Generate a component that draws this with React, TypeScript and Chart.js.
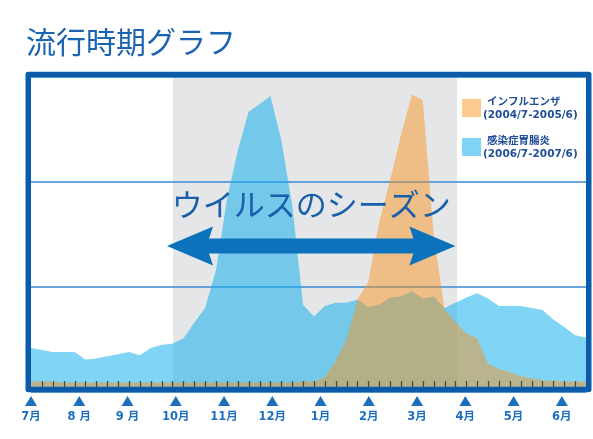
import React, { useEffect, useRef } from 'react';
import { Chart, registerables } from 'chart.js';

Chart.register(...registerables);

// ---- data ----
const TITLE = '流行時期グラフ';
const SEASON_LABEL = 'ウイルスのシーズン';
const MONTHS = ['7月', '8 月', '9 月', '10月', '11月', '12月', '1月', '2月', '3月', '4月', '5月', '6月'];
const WEEKS = [
  0, 1, 2, 3, 4, 5, 6, 7, 8, 9, 10, 11, 12, 13, 14, 15, 16, 17, 18, 19, 20, 21, 22, 23, 24, 25,
  26, 27, 28, 29, 30, 31, 32, 33, 34, 35, 36, 37, 38, 39, 40, 41, 42, 43, 44, 45, 46, 47, 48, 49, 50, 51,
];
const SERIES_LABELS = ['インフルエンザ', '感染症胃腸炎'];
const SERIES_PERIODS = ['(2004/7-2005/6)', '(2006/7-2007/6)'];
// influenza 2004/7-2005/6 (relative level per week)
const INFLUENZA = [
  10, 10, 10, 9, 9, 9, 9, 9, 9, 9, 9, 9, 9, 9, 9, 9, 9, 9, 9, 9, 9, 9, 9, 9, 9, 10,
  10, 14, 30, 50, 88, 105, 162, 202, 245, 283, 278, 150, 78, 67, 56, 51, 27, 22, 19, 15, 13, 11, 11, 10, 10, 10,
];
// infectious gastroenteritis 2006/7-2007/6
const GASTRO = [
  42, 40, 38, 38, 38, 31, 32, 34, 36, 38, 35, 42, 45, 46, 51, 66, 80, 116, 183, 230, 267, 274, 282, 240, 178, 83,
  72, 82, 85, 85, 88, 81, 83, 90, 91, 96, 89, 91, 80, 85, 90, 94, 89, 82, 82, 82, 80, 78, 69, 62, 54, 52,
];
const SEASON = [13.05, 39.15]; // weeks: Oct - Mar
const ARROW = { from: 12.5, to: 39, level: 139, textLevel: 179 };

const COLORS = {
  influenza: 'rgba(248,146,27,0.48)',
  gastro: 'rgba(20,175,236,0.54)',
  band: 'rgb(229,230,232)',
  grid: 'rgba(70,145,210,0.8)',
  frame: '#0b5bab',
  title: '#1a64b1',
  text: '#1a5fab',
  arrow: '#0b72bb',
  month: '#1b6fbd',
  legend: '#214f98',
  tick: 'rgba(50,50,45,0.85)',
};

const decorPlugin = {
  id: 'decor',
  beforeDraw(chart: any) {
    const { ctx, chartArea } = chart;
    const x = chart.scales.x;
    ctx.save();
    ctx.fillStyle = COLORS.band;
    const x0 = x.getPixelForValue(SEASON[0]);
    const x1 = x.getPixelForValue(SEASON[1]);
    ctx.fillRect(x0, chartArea.top, x1 - x0, chartArea.bottom - chartArea.top);
    ctx.restore();
  },
  afterDatasetsDraw(chart: any) {
    const { ctx, chartArea } = chart;
    const x = chart.scales.x;
    const y = chart.scales.y;
    ctx.save();
    // weekly ruler ticks
    ctx.strokeStyle = COLORS.tick;
    ctx.lineWidth = 1.2;
    WEEKS.slice(1, -1).forEach((w) => {
      const px = Math.round(x.getPixelForValue(w)) + 0.5;
      ctx.beginPath();
      ctx.moveTo(px, chartArea.bottom - 11);
      ctx.lineTo(px, chartArea.bottom - 5);
      ctx.stroke();
    });
    // season arrow
    const xl = x.getPixelForValue(ARROW.from);
    const xr = x.getPixelForValue(ARROW.to);
    const yc = y.getPixelForValue(ARROW.level);
    const head = 46, half = 19.5, shaft = 7.5, notch = 4;
    ctx.fillStyle = COLORS.arrow;
    ctx.beginPath();
    ctx.moveTo(xl, yc);
    ctx.lineTo(xl + head, yc - half);
    ctx.lineTo(xl + head - notch, yc - shaft);
    ctx.lineTo(xr - head + notch, yc - shaft);
    ctx.lineTo(xr - head, yc - half);
    ctx.lineTo(xr, yc);
    ctx.lineTo(xr - head, yc + half);
    ctx.lineTo(xr - head + notch, yc + shaft);
    ctx.lineTo(xl + head - notch, yc + shaft);
    ctx.lineTo(xl + head, yc + half);
    ctx.closePath();
    ctx.fill();
    // season label
    ctx.fillStyle = COLORS.text;
    ctx.font = '31px "Noto Sans CJK JP"';
    ctx.textAlign = 'center';
    ctx.textBaseline = 'middle';
    ctx.fillText(SEASON_LABEL, (xl + xr) / 2, y.getPixelForValue(ARROW.textLevel));
    ctx.restore();
  },
  afterDraw(chart: any) {
    const { ctx, chartArea } = chart;
    ctx.save();
    // frame
    ctx.strokeStyle = COLORS.frame;
    ctx.lineWidth = 5.5;
    ctx.lineJoin = 'round';
    ctx.strokeRect(
      chartArea.left - 2.75,
      chartArea.top - 2.5,
      chartArea.right - chartArea.left + 5.5,
      chartArea.bottom - chartArea.top
    );
    // title
    ctx.fillStyle = COLORS.title;
    ctx.font = '30px "Noto Sans CJK JP"';
    ctx.textAlign = 'left';
    ctx.textBaseline = 'middle';
    ctx.fillText(TITLE, chartArea.left - 5, 42);
    // legend
    chart.data.datasets.forEach((ds: any, i: number) => {
      const bx = chartArea.right - 124;
      const by = chartArea.top + 22 + i * 39;
      ctx.fillStyle = ds.backgroundColor;
      ctx.fillRect(bx, by, 19, 18);
      ctx.fillStyle = COLORS.legend;
      ctx.font = 'bold 10.5px "DejaVu Sans", "Noto Sans CJK JP"';
      ctx.textAlign = 'left';
      ctx.textBaseline = 'middle';
      ctx.fillText(SERIES_LABELS[i], bx + 25, by + 3);
      ctx.fillText(SERIES_PERIODS[i], bx + 21, by + 16);
    });
    // month triangles
    const m = chart.scales.x2;
    ctx.fillStyle = COLORS.month;
    m.ticks.forEach((_t: any, i: number) => {
      const px = m.getPixelForTick(i);
      ctx.beginPath();
      ctx.moveTo(px - 6, chartArea.bottom + 14);
      ctx.lineTo(px + 6, chartArea.bottom + 14);
      ctx.lineTo(px, chartArea.bottom + 4);
      ctx.closePath();
      ctx.fill();
    });
    ctx.restore();
  },
};

export default function App() {
  const ref = useRef<HTMLCanvasElement | null>(null);
  useEffect(() => {
    if (!ref.current) return;
    const chart = new Chart(ref.current, {
      type: 'line',
      data: {
        datasets: [
          {
            label: SERIES_LABELS[0],
            data: INFLUENZA.map((v, i) => ({ x: WEEKS[i], y: v })),
            backgroundColor: COLORS.influenza,
            borderColor: 'transparent',
            borderWidth: 0,
            pointRadius: 0,
            fill: 'origin',
            tension: 0,
          },
          {
            label: SERIES_LABELS[1],
            data: GASTRO.map((v, i) => ({ x: WEEKS[i], y: v })),
            backgroundColor: COLORS.gastro,
            borderColor: 'transparent',
            borderWidth: 0,
            pointRadius: 0,
            fill: 'origin',
            tension: 0,
          },
        ],
      },
      options: {
        animation: false,
        responsive: false,
        layout: { padding: { left: 31, right: 7, top: 77, bottom: 0 } },
        plugins: { legend: { display: false }, tooltip: { enabled: false } },
        scales: {
          x: { type: 'linear', min: 0, max: 51, display: false },
          x2: {
            type: 'linear',
            position: 'bottom',
            min: 0,
            max: 11.5,
            grid: { display: false, drawTicks: false },
            border: { display: false },
            afterBuildTicks: (s: any) => {
              s.ticks = MONTHS.map((_m, i) => ({ value: i }));
            },
            afterFit: (s: any) => {
              s.height = 47;
            },
            ticks: {
              stepSize: 1,
              autoSkip: false,
              maxRotation: 0,
              padding: 18,
              color: COLORS.month,
              font: { family: '"DejaVu Sans", "Noto Sans CJK JP"', size: 11.5, weight: 'bold' },
              callback: (v: any) => MONTHS[v],
            },
          },
          y: {
            type: 'linear',
            min: 0,
            max: 300,
            position: 'left',
            border: { display: false },
            grid: { color: COLORS.grid, lineWidth: 2, drawTicks: false },
            ticks: { stepSize: 100, display: false },
            afterFit: (s: any) => {
              s.width = 0;
            },
          },
        },
      } as any,
      plugins: [decorPlugin],
    });
    return () => chart.destroy();
  }, []);
  return (
    <div style={{ position: 'absolute', left: 0, top: 0, width: 593, height: 439, background: '#fff' }}>
      <canvas ref={ref} width={593} height={439} style={{ display: 'block', width: 593, height: 439 }} />
    </div>
  );
}
